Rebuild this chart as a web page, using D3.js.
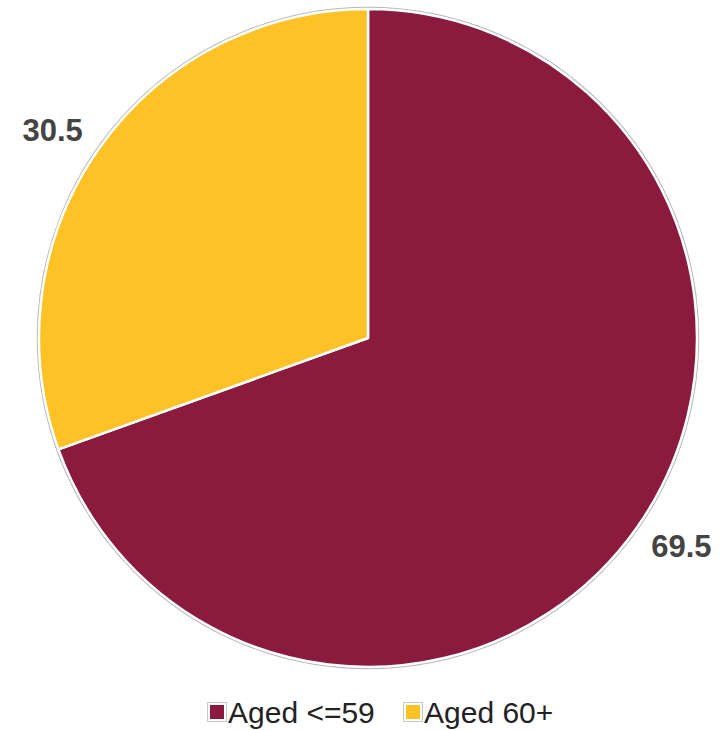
<!DOCTYPE html>
<html>
<head>
<meta charset="utf-8">
<script src="https://cdn.jsdelivr.net/npm/d3@7"></script>
<style>
html,body{margin:0;padding:0;background:#fff;}
svg{display:block;}
</style>
</head>
<body>
<svg id="chart" width="721" height="730"></svg>
<script>
const categories = ["Aged <=59", "Aged 60+"];
const values = [69.5, 30.5];
const labels = ["69.5", "30.5"];
const colors = ["#8A1B3F", "#FDC226"];

const svg = d3.select("#chart");
const cx = 368, cy = 338, r = 329;

const pie = d3.pie().sort(null).value(d => d.value);
const arcs = pie(categories.map((c, i) => ({cat: c, value: values[i], label: labels[i], color: colors[i]})));
const arc = d3.arc().innerRadius(0).outerRadius(r);

const g = svg.append("g").attr("transform", `translate(${cx},${cy})`);

g.append("circle").attr("r", r + 1.5).attr("fill", "none")
  .attr("stroke", "#b8b8b8").attr("stroke-width", 1.5);

g.selectAll("path.slice").data(arcs).enter().append("path")
  .attr("class", "slice")
  .attr("d", arc)
  .attr("fill", d => d.data.color)
  .attr("stroke", "#fff").attr("stroke-width", 2.5).attr("stroke-linejoin", "round");

// labels
const Ry = 362, Rx = 362;
g.selectAll("text.lbl").data(arcs).enter().append("text")
  .attr("class", "lbl")
  .each(function(d) {
    const a = (d.startAngle + d.endAngle) / 2;
    const sx = Math.sin(a), sy = -Math.cos(a);
    const left = sx < 0;
    d3.select(this)
      .attr("x", sx * Rx + (left ? 11 : -13))
      .attr("y", sy * Ry)
      .attr("text-anchor", left ? "end" : "start");
  })
  .attr("dy", "0.36em")
  .attr("font-family", "Liberation Sans, Arial, sans-serif")
  .attr("font-weight", "bold")
  .attr("font-size", 31)
  .attr("fill", "#444")
  .text(d => d.data.label);

// legend
const legend = svg.append("g").attr("transform", "translate(207,702)");
const items = [{x: 0}, {x: 196}];
categories.forEach((c, i) => {
  const it = legend.append("g").attr("transform", `translate(${items[i].x},0)`);
  it.append("rect").attr("x", 0.5).attr("y", 0.5).attr("width", 19).attr("height", 19)
    .attr("fill", "#fff").attr("stroke", "#c8c8c8").attr("stroke-width", 1);
  it.append("rect").attr("x", 3).attr("y", 3).attr("width", 14).attr("height", 14)
    .attr("fill", colors[i]);
  it.append("text").attr("x", 21).attr("y", 21)
    .attr("font-family", "Liberation Sans, Arial, sans-serif")
    .attr("font-size", 30)
    .attr("fill", "#222")
    .text(c);
});
</script>
</body>
</html>
